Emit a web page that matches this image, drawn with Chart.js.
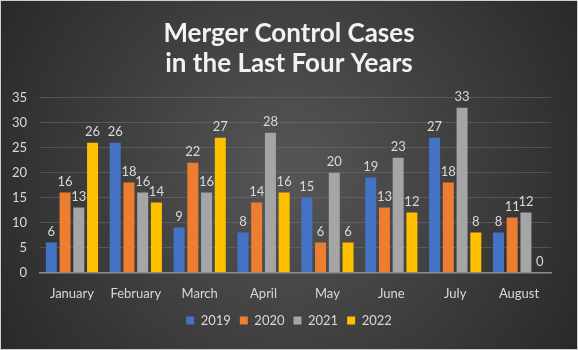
<!DOCTYPE html>
<html>
<head>
<meta charset="utf-8">
<script src="https://cdn.jsdelivr.net/npm/chart.js@4.4.1/dist/chart.umd.min.js"></script>
<style>
  html, body { margin: 0; padding: 0; background: #333; }
  #wrap { width: 578px; height: 350px; position: relative; }
</style>
</head>
<body>
<div id="wrap"><canvas id="chart" width="578" height="350"></canvas></div>
<script>
const months = ['January', 'February', 'March', 'April', 'May', 'June', 'July', 'August'];
const cases2019 = [6, 26, 9, 8, 15, 19, 27, 8];
const cases2020 = [16, 18, 22, 14, 6, 13, 18, 11];
const cases2021 = [13, 16, 16, 28, 20, 23, 33, 12];
const cases2022 = [26, 14, 27, 16, 6, 12, 8, 0];

const fontFamily = "Lato, 'Open Sans', sans-serif";
const textColor = '#d9d9d9';

// dark radial background like the office chart style
const backdrop = {
  id: 'backdrop',
  beforeDraw(chart) {
    const { ctx, width, height } = chart;
    ctx.save();
    const g = ctx.createRadialGradient(width / 2, height / 2, 20, width / 2, height / 2, width * 0.62);
    g.addColorStop(0, '#545454');
    g.addColorStop(1, '#262626');
    ctx.fillStyle = g;
    ctx.fillRect(0, 0, width, height);
    ctx.strokeStyle = '#cfcfcf';
    ctx.lineWidth = 1;
    ctx.strokeRect(0.5, 0.5, width - 1, height - 1);
    ctx.restore();
  },
  // title and legend are centred on the whole canvas, not the padded area
  afterLayout(chart) {
    [chart.titleBlock, chart.legend].forEach(box => {
      box.left += 13;
      box.right += 13;
    });
  },
  // soft shadow under the title text
  beforeTitleDraw(chart) {
    const ctx = chart.ctx;
    ctx.save();
    ctx.shadowColor = 'rgba(0,0,0,0.7)';
    ctx.shadowBlur = 4;
    ctx.shadowOffsetX = 1;
    ctx.shadowOffsetY = 2;
  },
  afterTitleDraw(chart) {
    chart.ctx.restore();
  }
};

// value labels above each bar
const valueLabels = {
  id: 'valueLabels',
  afterDatasetsDraw(chart) {
    const { ctx } = chart;
    ctx.save();
    ctx.font = `13px ${fontFamily}`;
    ctx.fillStyle = textColor;
    ctx.textAlign = 'center';
    ctx.textBaseline = 'bottom';
    chart.data.datasets.forEach((ds, i) => {
      chart.getDatasetMeta(i).data.forEach((bar, j) => {
        ctx.fillText(ds.data[j], bar.x, bar.y - 4);
      });
    });
    ctx.restore();
  }
};

new Chart(document.getElementById('chart'), {
  type: 'bar',
  data: {
    labels: months,
    datasets: [
      { label: '2019', data: cases2019, backgroundColor: '#4472C4' },
      { label: '2020', data: cases2020, backgroundColor: '#ED7D31' },
      { label: '2021', data: cases2021, backgroundColor: '#A5A5A5' },
      { label: '2022', data: cases2022, backgroundColor: '#FFC000' }
    ]
  },
  options: {
    responsive: false,
    animation: false,
    layout: { padding: { left: 1, right: 27, top: 10, bottom: 13 } },
    datasets: {
      bar: { categoryPercentage: 0.86, barPercentage: 0.8 }
    },
    scales: {
      x: {
        grid: { display: false },
        border: { color: '#8c8c8c', width: 1.5 },
        afterFit(scale) { scale.height -= 3; },
        ticks: { color: textColor, padding: 6, font: { family: fontFamily, size: 13 } }
      },
      y: {
        min: 0,
        max: 35,
        afterFit(scale) { scale.width = 39; },
        ticks: { stepSize: 5, color: textColor, padding: 13, font: { family: fontFamily, size: 13 } },
        grid: { color: 'rgba(120,120,120,0.45)', drawTicks: false },
        border: { display: false }
      }
    },
    plugins: {
      title: {
        display: true,
        text: ['Merger Control Cases', 'in the Last Four Years'],
        color: '#f2f2f2',
        font: { family: fontFamily, size: 26, weight: 'bold', lineHeight: 1.15 },
        padding: { top: 9, bottom: 19 }
      },
      legend: {
        position: 'bottom',
        labels: {
          color: textColor,
          boxWidth: 8,
          boxHeight: 8,
          padding: 9,
          font: { family: fontFamily, size: 13 }
        }
      },
      tooltip: { enabled: false }
    }
  },
  plugins: [backdrop, valueLabels]
});
</script>
</body>
</html>
